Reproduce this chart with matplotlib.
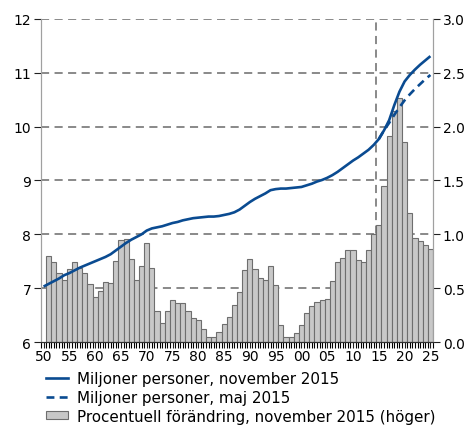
import numpy as np
import matplotlib
matplotlib.use("Agg")
import matplotlib.pyplot as plt
from matplotlib.patches import Patch
from matplotlib.lines import Line2D

# Befolkning, miljoner personer (vänster axel)
years = list(range(1950, 2026))
pop_nov2015 = [
    7.03, 7.08, 7.13, 7.18, 7.24, 7.28, 7.33, 7.38, 7.42, 7.46,
    7.50, 7.54, 7.58, 7.63, 7.70, 7.77, 7.84, 7.90, 7.95, 8.00,
    8.07, 8.11, 8.13, 8.15, 8.18, 8.21, 8.23, 8.26, 8.28, 8.30,
    8.31, 8.32, 8.33, 8.33, 8.34, 8.36, 8.38, 8.41, 8.46, 8.53,
    8.60, 8.66, 8.71, 8.76, 8.82, 8.84, 8.85, 8.85, 8.86, 8.87,
    8.88, 8.91, 8.94, 8.98, 9.01, 9.05, 9.10, 9.16, 9.23, 9.30,
    9.37, 9.43, 9.50, 9.57, 9.66, 9.77, 9.93, 10.12, 10.40, 10.65,
    10.84, 10.96, 11.06, 11.15, 11.23, 11.31,
]
years_maj = list(range(2015, 2026))
pop_maj2015 = [9.77, 9.93, 10.07, 10.22, 10.36, 10.49, 10.60, 10.70, 10.79, 10.88, 10.96]

# Procentuell förändring (höger axel)
years_pct = list(range(1951, 2026))
pct_change = [
    0.80, 0.74, 0.64, 0.58, 0.68, 0.74, 0.69, 0.64, 0.54, 0.42,
    0.47, 0.56, 0.55, 0.75, 0.95, 0.96, 0.77, 0.58, 0.71, 0.92,
    0.69, 0.29, 0.18, 0.29, 0.39, 0.36, 0.36, 0.29, 0.22, 0.20,
    0.12, 0.05, 0.05, 0.09, 0.17, 0.23, 0.34, 0.46, 0.67, 0.77,
    0.68, 0.59, 0.58, 0.71, 0.53, 0.16, 0.05, 0.05, 0.08, 0.16,
    0.27, 0.33, 0.37, 0.39, 0.40, 0.57, 0.74, 0.78, 0.85, 0.85,
    0.76, 0.74, 0.85, 1.00, 1.09, 1.45, 1.91, 2.15, 2.27, 1.86,
    1.20, 0.97, 0.94, 0.90, 0.86,
]

BLUE = "#0a4b91"
GRID = "#808080"
FS = 10

plt.rcParams["font.family"] = ["DejaVu Sans"]

fig = plt.figure(figsize=(4.71, 4.27), dpi=100)
ax2 = fig.add_axes([0.087, 0.1967, 0.8323, 0.7565])
ax = ax2.twinx()
ax.yaxis.tick_left()
ax.yaxis.set_label_position("left")
ax2.yaxis.tick_right()
ax.set_zorder(ax2.get_zorder() + 1)
ax.patch.set_visible(False)

# staplar på höger axel
ax2.bar(years_pct, pct_change, width=1.0, color="#c8c8c8", edgecolor="#6e6e6e",
        linewidth=0.8, zorder=2)
for v in [0.5, 1.0, 1.5, 2.0, 2.5, 3.0]:
    ax2.axhline(v, color=GRID, lw=1.3, ls=(0, (4.5, 3)), zorder=1)
ax2.axvline(2014.5, color=GRID, lw=1.3, ls=(0, (4.5, 3)), zorder=1)
ax2.set_ylim(0, 3)
ax2.set_yticks([0, 0.5, 1.0, 1.5, 2.0, 2.5, 3.0])
ax2.set_yticklabels([f"{v:.1f}" for v in [0, 0.5, 1.0, 1.5, 2.0, 2.5, 3.0]])

# linjer på vänster axel
ax.plot(years, pop_nov2015, color=BLUE, lw=1.9, solid_capstyle="butt", zorder=3)
ax.plot(years_maj, pop_maj2015, color=BLUE, lw=1.9, ls=(0, (3, 2)), zorder=3)
ax.set_ylim(6, 12)
ax.set_yticks(range(6, 13))

ax2.set_xlim(1949.5, 2025.5)
major = list(range(1950, 2026, 5))
ax2.set_xticks(major)
ax2.set_xticklabels([f"{y % 100:02d}" for y in major])
ax2.set_xticks(np.arange(1949.5, 2025.6, 0.5), minor=True)

for a in (ax, ax2):
    a.spines["top"].set_visible(False)
    a.spines["left"].set_color("#a0a0a0")
    a.spines["right"].set_color("#a0a0a0")
    a.spines["bottom"].set_color("#303030")
    a.tick_params(labelsize=FS, length=5, width=0.8, color="#202020", pad=2)
ax2.tick_params(axis="x", which="both", length=4, width=0.8, pad=1)

handles = [
    Line2D([], [], color=BLUE, lw=1.9),
    Line2D([], [], color=BLUE, lw=1.9, ls=(0, (3, 2))),
    Patch(facecolor="#c8c8c8", edgecolor="#6e6e6e", linewidth=0.8),
]
labels = [
    "Miljoner personer, november 2015",
    "Miljoner personer, maj 2015",
    "Procentuell förändring, november 2015 (höger)",
]
fig.legend(handles, labels, loc="upper left", bbox_to_anchor=(0.097, 0.129),
           frameon=False, fontsize=10.9, handlelength=1.5, handleheight=0.45,
           handletextpad=0.6, labelspacing=0.26, borderpad=0, borderaxespad=0)

fig.savefig("out.png", dpi=100)
